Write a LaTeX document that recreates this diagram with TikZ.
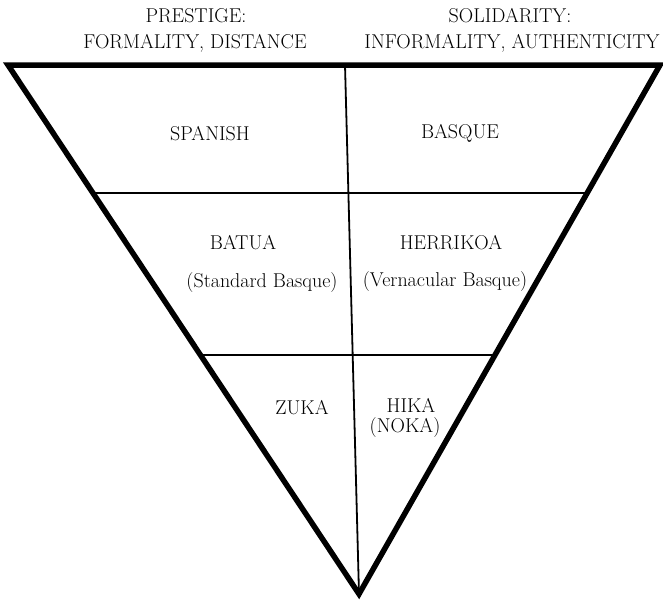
\documentclass[tikz,border=0pt]{standalone}
\usepackage{tikz}
\usetikzlibrary{calc}

\begin{document}
\begin{tikzpicture}[
    x=1pt, y=-1pt,
    frame/.style={line width=5.5pt, line join=miter, miter limit=20},
    divider/.style={line width=1.8pt},
    every node/.style={font=\fontsize{20}{22}\selectfont, inner sep=1pt}
]
\useasboundingbox (0,0) rectangle (663,600);
% corners of the triangle
\coordinate (tl) at (8,65);
\coordinate (tr) at (660,65);
\coordinate (apex) at (359,594);
\coordinate (mid) at (345,65);
% ends of the dividers
\coordinate (l1) at ($(tl)!0.2420!(apex)$);
\coordinate (r1) at ($(tr)!0.2420!(apex)$);
\coordinate (l2) at ($(tl)!0.5482!(apex)$);
\coordinate (r2) at ($(tr)!0.5482!(apex)$);
\draw[divider] (l1) -- (r1);
\draw[divider] (l2) -- (r2);
\draw[divider] (mid) -- (apex);
\draw[frame] (tl) -- (tr) -- (apex) -- cycle;
% headings
\node (prestige) at (196,16) {PRESTIGE:};
\node (formal) at (195,43) {FORMALITY, DISTANCE};
\node (solidarity) at (510,16) {SOLIDARITY:};
\node (informal) at (512,43) {INFORMALITY, AUTHENTICITY};
% cells
\node (spanish) at (210,134) {SPANISH};
\node (basque) at (460,133) {BASQUE};
\node (batua) at (243,243) {BATUA};
\node (standard) at (262,283) {(Standard Basque)};
\node (herrikoa) at (451,243) {HERRIKOA};
\node (vernacular) at (445,282) {(Vernacular Basque)};
\node (zuka) at (302,408) {ZUKA};
\node (hika) at (411,405) {HIKA};
\node (noka) at (405,428) {(NOKA)};
\end{tikzpicture}
\end{document}
